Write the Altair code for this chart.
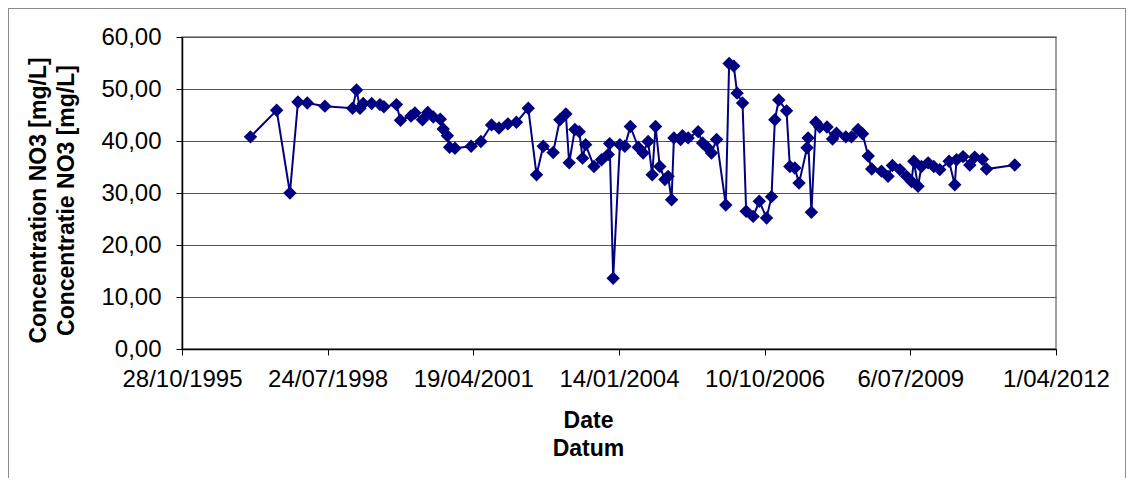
import altair as alt
import pandas as pd

# ---- data ----
dates = [
    "1997-02-09", "1997-08-08", "1997-11-07", "1998-01-01", "1998-03-06", "1998-07-05",
    "1999-01-11", "1999-02-07", "1999-03-03", "1999-03-25", "1999-05-22", "1999-07-18",
    "1999-08-14", "1999-11-08", "1999-12-06", "2000-02-16", "2000-03-14", "2000-05-05",
    "2000-06-10", "2000-07-18", "2000-09-04", "2000-09-24", "2000-10-23", "2000-11-07",
    "2000-12-14", "2001-04-04", "2001-06-10", "2001-08-22", "2001-10-12", "2001-12-12",
    "2002-02-09", "2002-05-01", "2002-06-27", "2002-08-12", "2002-10-19", "2002-12-04",
    "2003-01-14", "2003-02-06", "2003-03-17", "2003-04-16", "2003-05-09", "2003-05-30",
    "2003-07-26", "2003-09-16", "2003-11-01", "2003-11-11", "2003-12-05", "2004-01-20",
    "2004-02-23", "2004-04-01", "2004-05-25", "2004-06-28", "2004-08-01", "2004-08-29",
    "2004-09-21", "2004-10-20", "2004-11-24", "2004-12-16", "2005-01-09", "2005-01-25",
    "2005-03-12", "2005-03-25", "2005-05-03", "2005-07-10", "2005-08-10", "2005-09-10",
    "2005-10-10", "2005-11-14", "2006-01-16", "2006-02-08", "2006-03-12", "2006-04-04",
    "2006-05-11", "2006-06-05", "2006-07-23", "2006-09-03", "2006-10-23", "2006-11-26",
    "2006-12-19", "2007-01-15", "2007-03-09", "2007-04-01", "2007-05-05", "2007-06-03",
    "2007-07-28", "2007-08-04", "2007-08-27", "2007-09-26", "2007-10-23", "2007-12-12",
    "2008-01-19", "2008-02-15", "2008-04-19", "2008-05-28", "2008-07-12", "2008-08-12",
    "2008-09-20", "2008-10-14", "2008-12-20", "2009-02-03", "2009-03-05", "2009-04-25",
    "2009-06-10", "2009-07-14", "2009-07-30", "2009-08-28", "2009-09-20", "2009-11-05",
    "2009-12-14", "2010-01-24", "2010-03-29", "2010-05-07", "2010-05-19", "2010-07-03",
    "2010-08-18", "2010-09-21", "2010-11-13", "2010-12-11", "2011-06-23",
]
no3 = [
    40.8, 45.9, 30.0, 47.5, 47.3, 46.7,
    46.3, 49.8, 46.3, 47.2, 47.2, 47.0,
    46.6, 47.0, 44.0, 44.8, 45.4, 44.1,
    45.5, 44.6, 44.2, 42.3, 41.0, 38.8,
    38.6, 39.0, 39.9, 43.1, 42.5, 43.3,
    43.6, 46.3, 33.5, 39.0, 37.8, 44.1,
    45.2, 35.8, 42.2, 41.8, 36.7, 39.3,
    35.1, 36.4, 37.4, 39.5, 13.6, 39.3,
    39.0, 42.8, 38.8, 37.7, 39.9, 33.5,
    42.8, 35.1, 32.6, 33.2, 28.7, 40.6,
    40.3, 41.0, 40.6, 41.8, 39.6, 38.8,
    37.7, 40.3, 27.7, 54.9, 54.4, 49.2,
    47.3, 26.5, 25.5, 28.4, 25.2, 29.3,
    44.1, 47.9, 45.8, 35.1, 34.8, 31.9,
    38.7, 40.6, 26.3, 43.6, 42.7, 42.7,
    40.4, 41.5, 40.8, 40.8, 42.2, 41.4,
    37.1, 34.6, 34.2, 33.2, 35.3, 34.5,
    33.2, 32.2, 36.1, 31.3, 35.1, 35.8,
    35.1, 34.5, 36.1, 31.6, 36.4, 37.0,
    35.4, 36.9, 36.5, 34.6, 35.4,
]
x_ticks = ["1995-10-28", "1998-07-24", "2001-04-19", "2004-01-14",
           "2006-10-10", "2009-07-06", "2012-04-01"]
y_ticks = [0, 10, 20, 30, 40, 50, 60]
y_title = ["Concentration NO3 [mg/L]", "Concentratie NO3 [mg/L]"]
x_title = ["Date", "Datum"]

df = pd.DataFrame({"date": dates, "no3": no3})
tick_ms = [int(pd.Timestamp(d).value // 10**6) for d in x_ticks]

FONT = "Liberation Sans"
NAVY = "#000080"

x_enc = alt.X(
    "date:T",
    scale=alt.Scale(type="utc", domain=[tick_ms[0], tick_ms[-1]], nice=False),
    axis=alt.Axis(
        values=tick_ms,
        labelExpr="utcdate(datum.value) + utcFormat(datum.value, '/%m/%Y')",
        title=x_title,
        titleX=406,
        titleAnchor="start",
        titleAlign="center",
        titlePadding=18,
        titleLineHeight=28,
        grid=False,
        labelFlush=False,
        labelOverlap=False,
        labelPadding=12,
        tickSize=6,
    ),
)
y_enc = alt.Y(
    "no3:Q",
    scale=alt.Scale(domain=[0, 60], nice=False),
    axis=alt.Axis(
        values=y_ticks,
        labelExpr="replace(format(datum.value, '.2f'), '.', ',')",
        title=y_title,
        titleY=163,
        titlePadding=22,
        titleLineHeight=28,
        grid=True,
        labelPadding=15,
        tickSize=6,
    ),
)

line = alt.Chart(df).mark_line(
    color=NAVY, strokeWidth=2,
    point=alt.OverlayMarkDef(shape="diamond", size=180, filled=True, color=NAVY, opacity=1),
).encode(x=x_enc, y=y_enc)

border = alt.Chart(df).mark_rect(
    filled=False, stroke="#8c8c8c", strokeWidth=1, clip=False
).encode(
    x=alt.value(-173.5), x2=alt.value(944), y=alt.value(-28.5), y2=alt.value(470)
)

chart = alt.layer(border, line).properties(
    width=874,
    height=312,
    autosize=alt.AutoSizeParams(type="none"),
    padding={"left": 174, "top": 29, "right": 70, "bottom": 129},
).configure_view(
    stroke="#808080", strokeWidth=1.5
).configure_axis(
    labelFont=FONT, labelFontSize=24, labelColor="#000000",
    titleFont=FONT, titleFontSize=23, titleFontWeight="bold", titleColor="#000000",
    domainColor="#000000", domainWidth=1.5,
    tickColor="#000000", tickWidth=1,
    gridColor="#555555", gridWidth=1,
)

chart.save("out.html", embed_options={"renderer": "svg", "actions": False})
